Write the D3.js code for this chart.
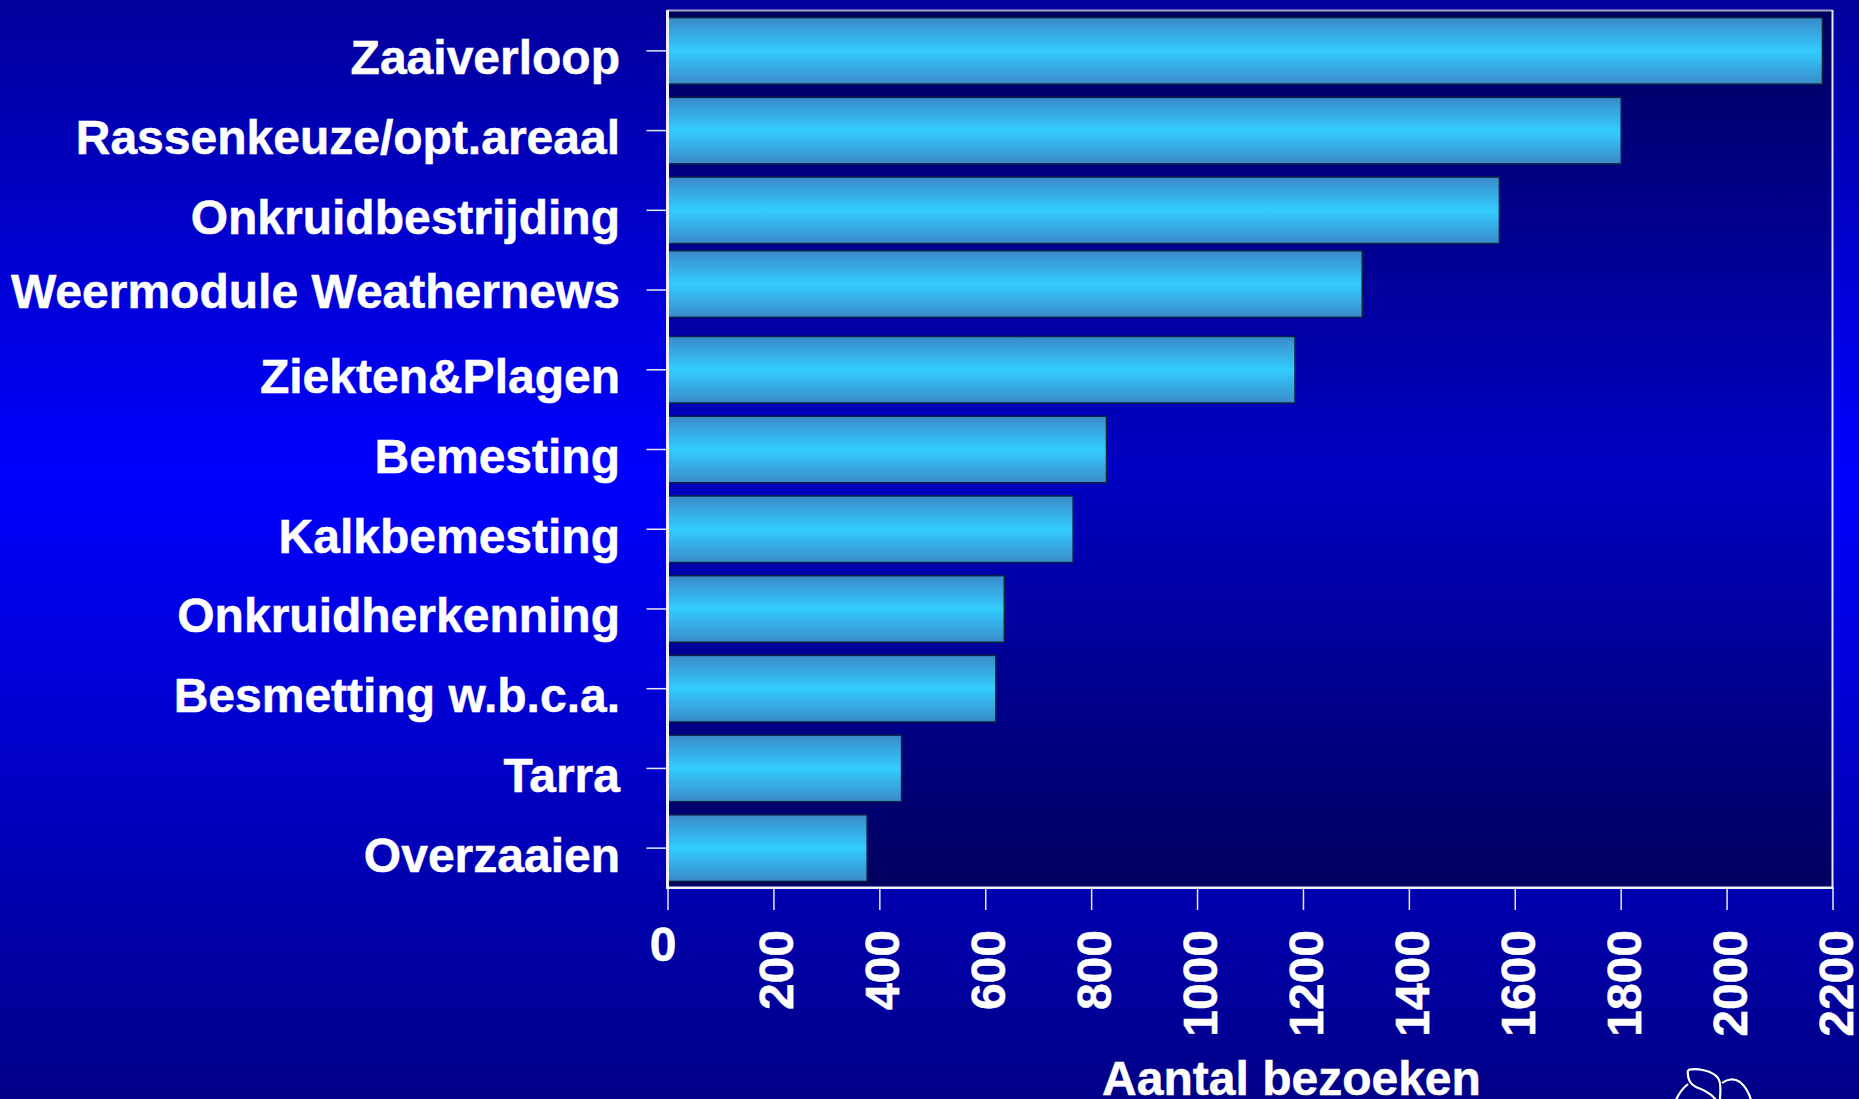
<!DOCTYPE html>
<html><head><meta charset="utf-8">
<style>html,body{margin:0;padding:0;background:#000090;overflow:hidden}svg{display:block}text{font-family:"Liberation Sans",Arial,sans-serif;font-weight:700;fill:#fff}</style>
<script src="https://cdn.jsdelivr.net/npm/d3@7"></script></head><body>
<script>
const categories=["Zaaiverloop","Rassenkeuze/opt.areaal","Onkruidbestrijding","Weermodule Weathernews","Ziekten&Plagen","Bemesting","Kalkbemesting","Onkruidherkenning","Besmetting w.b.c.a.","Tarra","Overzaaien"];
const visits=[2181,1801,1571,1312,1185,829,766,636,620,442,377];
const xTicks=[0,200,400,600,800,1000,1200,1400,1600,1800,2000,2200];
const xTitle="Aantal bezoeken";
const W=1859,H=1099,L=667.5,R=1832.5,T=11,B=888,FS=48;
const nudgedRow="Weermodule Weathernews";
const nudge=c=>c===nudgedRow?-6:0;
const svg=d3.select("body").append("svg").attr("width",W).attr("height",H);
const defs=svg.append("defs");
function grad(id,stops){const g=defs.append("linearGradient").attr("id",id).attr("x1",0).attr("x2",0).attr("y1",0).attr("y2",1);
 stops.forEach(s=>g.append("stop").attr("offset",s[0]).attr("stop-color",s[1]));}
grad("page",[[0,"#00009a"],[.43,"#0000ff"],[1,"#000088"]]);
grad("plot",[[0,"#00005e"],[.52,"#0000c4"],[1,"#00005e"]]);
grad("bar",[[0,"#3a8ac8"],[.5,"#33ccff"],[1,"#3a8ac8"]]);
svg.append("rect").attr("width",W).attr("height",H).attr("fill","url(#page)");
svg.append("rect").attr("x",L).attr("y",T).attr("width",R-L).attr("height",B-T).attr("fill","url(#plot)");
const x=d3.scaleLinear().domain([0,2200]).range([L,R]);
const y=d3.scaleBand().domain(categories).range([T,B]).paddingInner(.165).paddingOuter(.0825);
svg.append("g").selectAll("rect").data(categories).join("rect")
 .attr("x",x(0)).attr("y",c=>y(c)+nudge(c))
 .attr("width",(c,i)=>x(visits[i])-x(0)).attr("height",y.bandwidth())
 .attr("fill","url(#bar)").attr("stroke","#0a2244").attr("stroke-width",1.5);
svg.append("line").attr("x1",L).attr("x2",R).attr("y1",T-.5).attr("y2",T-.5).attr("stroke","#a4a4c8").attr("stroke-width",2);
svg.append("line").attr("x1",R).attr("x2",R).attr("y1",T-1).attr("y2",B).attr("stroke","#e6e6f6").attr("stroke-width",2);
const styleText=s=>s.attr("font-size",FS).attr("fill","#fff").attr("stroke","#fff").attr("stroke-width",.5)
 .style("font-family",'"Liberation Sans",Arial,sans-serif').style("font-weight",700);
const ay=svg.append("g").attr("transform",`translate(${L},0)`).call(d3.axisLeft(y).tickSize(21).tickPadding(26));
ay.select(".domain").remove();
ay.selectAll("line").attr("stroke","#e8e8ff").attr("stroke-width",1.5);
ay.selectAll("text").call(styleText)
 .attr("text-anchor","end").attr("x",-47.5).attr("dy",null)
 .attr("y",c=>23.5+nudge(c));
const ax=svg.append("g").attr("transform",`translate(0,${B})`).call(d3.axisBottom(x).tickValues(xTicks).tickFormat(d3.format("d")).tickSize(22));
ax.select(".domain").remove();
ax.selectAll("line").attr("stroke","#e8e8ff").attr("stroke-width",1.5);
ax.selectAll("text").call(styleText)
 .attr("dy",null)
 .attr("text-anchor",d=>d===0?"middle":"end")
 .attr("x",0).attr("y",0)
 .attr("transform",d=>d===0?"translate(-5,73)":"translate(19.5,42) rotate(-90)");
svg.append("line").attr("x1",L).attr("x2",L).attr("y1",T-1).attr("y2",B+1).attr("stroke","#f0f0ff").attr("stroke-width",3);
svg.append("line").attr("x1",L-1).attr("x2",R+1).attr("y1",B-.2).attr("y2",B-.2).attr("stroke","#f0f0ff").attr("stroke-width",2.4);
svg.append("text").attr("x",1291.5).attr("y",1095).attr("text-anchor","middle").call(styleText).text(xTitle);
const logo=svg.append("g").attr("fill","none").attr("stroke","#fff").attr("stroke-width",2.2);
["M1688,1070 C1696,1068 1712,1070 1718,1078 C1722,1084 1720,1092 1720,1100",
 "M1688,1070 C1687,1078 1690,1084 1696,1087 C1704,1090 1712,1094 1716,1100",
 "M1688,1084 C1683,1088 1679,1093 1676,1100",
 "M1722,1083 C1727,1079 1734,1078 1740,1082 C1746,1087 1749,1093 1751,1100"]
 .forEach(d=>logo.append("path").attr("d",d));
</script></body></html>
